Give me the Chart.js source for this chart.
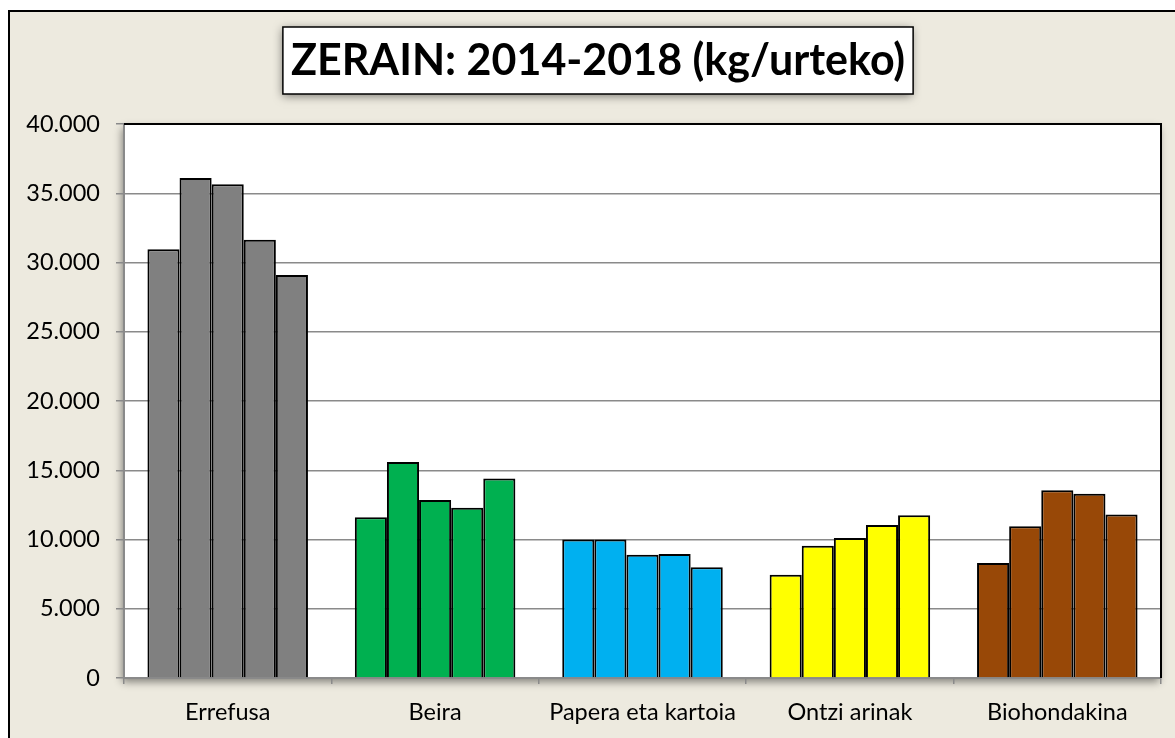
<!DOCTYPE html>
<html>
<head>
<meta charset="utf-8">
<script src="https://cdn.jsdelivr.net/npm/chart.js@4.4.1/dist/chart.umd.min.js"></script>
<style>
  html, body { margin: 0; padding: 0; background: #fff; }
  #wrap { width: 1175px; height: 738px; }
</style>
</head>
<body>
<div id="wrap"><canvas id="grafico"></canvas></div>
<script>
const titulua = "ZERAIN: 2014-2018 (kg/urteko)";
const kategoriak = ["Errefusa", "Beira", "Papera eta kartoia", "Ontzi arinak", "Biohondakina"];
const urteak = ["2014", "2015", "2016", "2017", "2018"];
const koloreak = ["#808080", "#00B050", "#00B0F0", "#FFFF00", "#984807"];

const urtea2014 = [30950, 11600, 10000, 7450, 8300];
const urtea2015 = [36100, 15600, 10000, 9550, 10950];
const urtea2016 = [35650, 12850, 8900, 10100, 13550];
const urtea2017 = [31650, 12300, 8950, 11050, 13300];
const urtea2018 = [29100, 14400, 8000, 11750, 11800];
const balioak = [urtea2014, urtea2015, urtea2016, urtea2017, urtea2018];

const yMax = 40000;
const yStep = 5000;

const beige = "#EDEADF";
const letra = "Lato";
const tituluTamaina = 43;
const tituluErdia = 598; // centro horizontal del titulo

// fondo, marco, caja del titulo y area blanca
const fondoPlugin = {
  id: "fondo",
  afterLayout(chart) {
    const t = chart.titleBlock;
    const d = tituluErdia - (t.left + t.right) / 2;
    t.left += d;
    t.right += d;
  },
  beforeDraw(chart) {
    const ctx = chart.ctx;
    const a = chart.chartArea;
    ctx.save();
    ctx.fillStyle = "#ffffff";
    ctx.fillRect(0, 0, chart.width, chart.height);
    ctx.fillStyle = beige;
    ctx.fillRect(9, 11, chart.width, chart.height);
    ctx.strokeStyle = "#000";
    ctx.lineWidth = 2;
    ctx.strokeRect(9, 11, chart.width + 10, chart.height + 10);

    // area del grafico
    ctx.shadowColor = "rgba(0,0,0,0.45)";
    ctx.shadowBlur = 8;
    ctx.shadowOffsetX = -2;
    ctx.shadowOffsetY = 4;
    ctx.fillStyle = "#ffffff";
    ctx.fillRect(a.left, a.top, a.right - a.left, a.bottom - a.top);
    ctx.shadowColor = "transparent";

    // caja del titulo
    const t = chart.titleBlock;
    ctx.font = "bold " + tituluTamaina + "px " + letra;
    const w = ctx.measureText(titulua).width;
    const cx = (t.left + t.right) / 2;
    const x0 = cx - w / 2 - 8, x1 = cx + w / 2 + 8;
    ctx.shadowColor = "rgba(0,0,0,0.5)";
    ctx.shadowBlur = 9;
    ctx.shadowOffsetX = -1;
    ctx.shadowOffsetY = 2;
    ctx.fillStyle = "#fff";
    ctx.fillRect(x0, 27, x1 - x0, 67);
    ctx.shadowColor = "transparent";
    ctx.lineWidth = 1.5;
    ctx.strokeStyle = "#000";
    ctx.strokeRect(x0, 27, x1 - x0, 67);
    ctx.restore();
  },
  afterDatasetsDraw(chart) {
    const ctx = chart.ctx;
    const a = chart.chartArea;
    ctx.save();
    ctx.strokeStyle = "#000";
    ctx.lineWidth = 2;
    ctx.beginPath();
    ctx.moveTo(a.left, a.top);
    ctx.lineTo(a.right, a.top);
    ctx.lineTo(a.right, a.bottom);
    ctx.stroke();
    ctx.restore();
  }
};

new Chart(document.getElementById("grafico"), {
  type: "bar",
  data: {
    labels: kategoriak,
    datasets: urteak.map((u, i) => ({
      label: u,
      data: balioak[i],
      backgroundColor: koloreak,
      borderColor: "#000",
      borderWidth: 2,
      borderSkipped: "bottom",
      categoryPercentage: 0.774,
      barPercentage: 1.0,
    })),
  },
  options: {
    responsive: true,
    maintainAspectRatio: false,
    animation: false,
    devicePixelRatio: 1,
    layout: { padding: { left: 11, right: 14, top: 0, bottom: 0 } },
    plugins: {
      legend: { display: false },
      tooltip: { enabled: false },
      title: {
        display: true,
        text: titulua,
        color: "#000",
        font: { family: letra, size: tituluTamaina, weight: "bold" },
        padding: { top: 35, bottom: 37.4 },
      },
    },
    scales: {
      x: {
        afterFit(axis) { axis.height = 60; },
        grid: {
          drawOnChartArea: false,
          drawTicks: true,
          tickLength: 6,
          color: "#8a8a8a",
          lineWidth: 1.5,
        },
        border: { color: "#8a8a8a", width: 2 },
        ticks: {
          color: "#000",
          padding: 14,
          font: { family: letra, size: 23.5 },
          maxRotation: 0,
        },
      },
      y: {
        min: 0,
        max: yMax,
        afterFit(axis) { axis.width = 113; },
        grid: {
          color: "#8a8a8a",
          lineWidth: 1.5,
          tickLength: 8,
        },
        border: { color: "#8a8a8a", width: 2 },
        ticks: {
          stepSize: yStep,
          color: "#000",
          padding: 16,
          font: { family: letra, size: 23.5 },
          callback: (v) => v.toLocaleString("de-DE"),
        },
      },
    },
  },
  plugins: [fondoPlugin],
});
</script>
</body>
</html>
